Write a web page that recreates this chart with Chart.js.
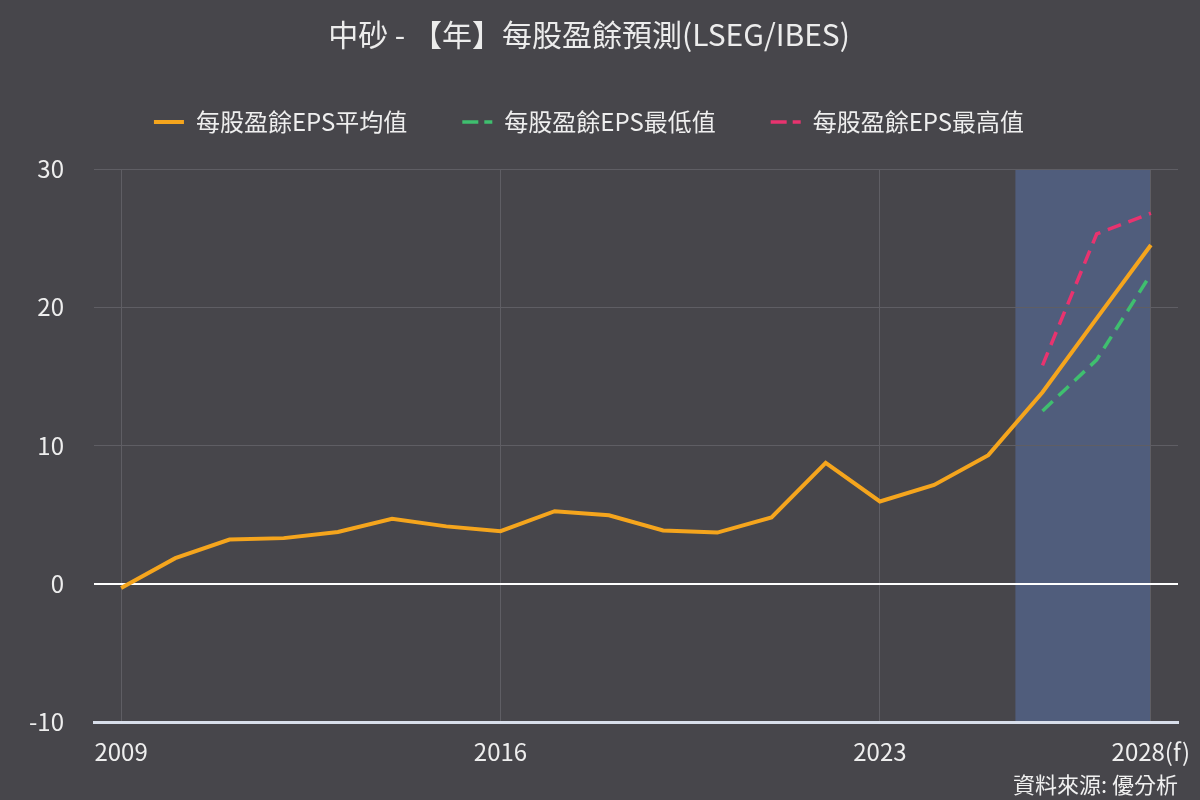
<!DOCTYPE html>
<html lang="zh-Hant">
<head>
    <meta charset="UTF-8">
    <title>中砂 - 【年】每股盈餘預測(LSEG/IBES)</title>
    <script src="https://cdn.jsdelivr.net/npm/chart.js"></script>
    <style>
        html, body {
            margin: 0;
            padding: 0;
            background: #47464b;
        }
        #wrap {
            width: 1200px;
            height: 800px;
        }
    </style>
</head>
<body>
    <div id="wrap"><canvas id="epsChart"></canvas></div>

    <script>
        const years = ["2009", "2010", "2011", "2012", "2013", "2014", "2015", "2016", "2017", "2018",
                       "2019", "2020", "2021", "2022", "2023", "2024", "2025", "2026", "2027", "2028(f)"];
        const epsAvg = [-0.3, 1.85, 3.2, 3.3, 3.75, 4.7, 4.15, 3.8, 5.25, 4.95,
                        3.85, 3.7, 4.8, 8.75, 5.95, 7.15, 9.3, 13.85, 19.2, 24.5];
        const epsLow = [null, null, null, null, null, null, null, null, null, null,
                        null, null, null, null, null, null, null, 12.5, 16.2, 22.4];
        const epsHigh = [null, null, null, null, null, null, null, null, null, null,
                         null, null, null, null, null, null, null, 15.8, 25.3, 26.8];
        const shownTicks = ["2009", "2016", "2023", "2028(f)"];
        const forecastFirst = "2026";

        const font = "'Noto Sans CJK TC', 'Noto Sans', sans-serif";

        // shaded forecast area, drawn before the grid so grid lines stay on top
        const forecastBox = {
            id: "forecastBox",
            beforeDraw(chart) {
                const x = chart.scales.x;
                const area = chart.chartArea;
                const start = x.getPixelForValue(years.indexOf(forecastFirst) - 0.5);
                const end = x.getPixelForValue(years.length - 1);
                const ctx = chart.ctx;
                ctx.save();
                ctx.fillStyle = "#505d7c";
                ctx.fillRect(start, area.top, end - start, area.bottom - area.top);
                ctx.restore();
            }
        };

        // empty layout box: extra room between the legend and the plot
        const legendGap = {
            id: "legendGap",
            beforeInit(chart) {
                Chart.layouts.addBox(chart, {
                    position: "top",
                    weight: 500,
                    fullSize: true,
                    options: {},
                    isHorizontal: () => true,
                    update(maxWidth) {
                        this.width = maxWidth;
                        this.height = 25;
                    },
                    draw() {}
                });
            }
        };

        const ctx = document.getElementById("epsChart").getContext("2d");
        new Chart(ctx, {
            type: "line",
            data: {
                labels: years,
                datasets: [{
                    label: "每股盈餘EPS平均值",
                    data: epsAvg,
                    borderColor: "#f5a51d",
                    backgroundColor: "#f5a51d",
                    borderWidth: 4,
                    pointRadius: 0,
                    tension: 0
                }, {
                    label: "每股盈餘EPS最低值",
                    data: epsLow,
                    borderColor: "#3fbf6f",
                    backgroundColor: "#3fbf6f",
                    borderWidth: 3.5,
                    borderDash: [14, 8],
                    pointRadius: 0,
                    tension: 0
                }, {
                    label: "每股盈餘EPS最高值",
                    data: epsHigh,
                    borderColor: "#e8336f",
                    backgroundColor: "#e8336f",
                    borderWidth: 3.5,
                    borderDash: [14, 8],
                    pointRadius: 0,
                    tension: 0
                }]
            },
            options: {
                responsive: true,
                maintainAspectRatio: false,
                animation: false,
                layout: {
                    padding: { left: 0, right: 22, top: 0, bottom: 4 }
                },
                plugins: {
                    title: {
                        display: true,
                        text: "中砂 - 【年】每股盈餘預測(LSEG/IBES)",
                        color: "#ececec",
                        font: { family: font, size: 30, weight: "normal", lineHeight: 1 },
                        padding: { top: 20, bottom: 5 }
                    },
                    subtitle: {
                        display: true,
                        position: "bottom",
                        align: "end",
                        text: "資料來源: 優分析",
                        color: "#f0f0f0",
                        font: { family: font, size: 22, weight: "normal", lineHeight: 1 },
                        padding: { top: 0, bottom: 0 }
                    },
                    legend: {
                        labels: {
                            color: "#eeeeee",
                            font: { family: font, size: 24 },
                            boxWidth: 30,
                            boxHeight: 0,
                            padding: 55
                        }
                    },
                    tooltip: { enabled: false }
                },
                scales: {
                    x: {
                        offset: true,
                        grid: {
                            offset: false,
                            drawTicks: false,
                            lineWidth: 1,
                            color: c => shownTicks.includes(years[c.index]) ? "#5f5e64" : "rgba(0,0,0,0)"
                        },
                        border: { color: "#d8deea", width: 3 },
                        ticks: {
                            autoSkip: false,
                            maxRotation: 0,
                            color: "#eeeeee",
                            padding: 15,
                            font: { family: font, size: 24 },
                            callback: (v, i) => shownTicks.includes(years[i]) ? years[i] : ""
                        },
                        afterFit: s => {
                            s.height = 52;
                            s.paddingLeft = 0;
                            s.paddingRight = 0;
                        }
                    },
                    y: {
                        min: -10,
                        max: 30,
                        ticks: {
                            stepSize: 10,
                            color: "#eeeeee",
                            padding: 30,
                            font: { family: font, size: 24 }
                        },
                        grid: {
                            drawTicks: false,
                            color: c => c.tick.value === 0 ? "#ffffff" : "#5f5e64",
                            lineWidth: c => c.tick.value === 0 ? 2 : 1
                        },
                        border: { display: false },
                        afterFit: s => { s.width = 94; }
                    }
                }
            },
            plugins: [forecastBox, legendGap]
        });
    </script>
</body>
</html>
